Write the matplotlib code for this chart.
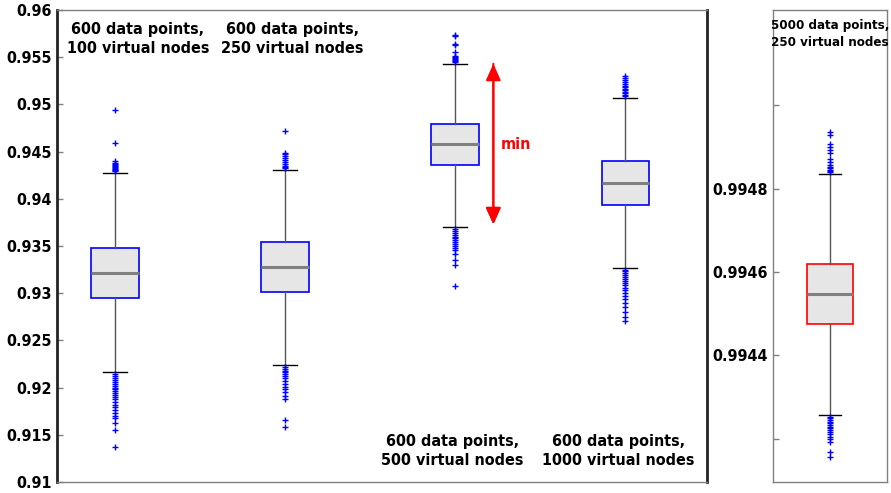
import matplotlib
matplotlib.use("Agg")
import matplotlib.pyplot as plt

# ---- data ----
labels = ["600 data points,\n100 virtual nodes", "600 data points,\n250 virtual nodes",
          "600 data points,\n500 virtual nodes", "600 data points,\n1000 virtual nodes"]
q1 = [0.9295, 0.9301, 0.9436, 0.9393]
med = [0.9321, 0.9328, 0.9458, 0.9417]
q3 = [0.9348, 0.9354, 0.9479, 0.9440]
whislo = [0.9216, 0.9224, 0.9370, 0.9327]
whishi = [0.9427, 0.9431, 0.9543, 0.9507]
fliers_hi = [
    [0.9494, 0.9459, 0.9440, 0.9438, 0.9437, 0.9436, 0.9435, 0.9434, 0.9433, 0.9432, 0.9431, 0.9430, 0.9429],
    [0.9472, 0.9449, 0.9447, 0.9445, 0.9443, 0.9441, 0.9439, 0.9437, 0.9435, 0.9434, 0.9433],
    [0.9574, 0.9572, 0.9564, 0.9563, 0.9556, 0.9551, 0.9550, 0.9549, 0.9548, 0.9547, 0.9546, 0.9545],
    [0.9530, 0.9528, 0.9526, 0.9524, 0.9522, 0.9520, 0.9518, 0.9516, 0.9515, 0.9513, 0.9512, 0.9510, 0.9509],
]
fliers_lo = [
    [0.9214, 0.9212, 0.9210, 0.9208, 0.9206, 0.9204, 0.9202, 0.9200, 0.9198, 0.9196, 0.9194, 0.9192,
     0.9190, 0.9188, 0.9185, 0.9182, 0.9179, 0.9176, 0.9173, 0.9170, 0.9168, 0.9163, 0.9155, 0.9137],
    [0.9222, 0.9220, 0.9218, 0.9216, 0.9214, 0.9212, 0.9210, 0.9207, 0.9204, 0.9201, 0.9198, 0.9195,
     0.9191, 0.9188, 0.9166, 0.9158],
    [0.9368, 0.9366, 0.9364, 0.9362, 0.9360, 0.9358, 0.9356, 0.9354, 0.9352, 0.9350, 0.9348, 0.9346,
     0.9341, 0.9335, 0.9330, 0.9308],
    [0.9325, 0.9323, 0.9321, 0.9319, 0.9317, 0.9315, 0.9313, 0.9311, 0.9309, 0.9306, 0.9303, 0.9300,
     0.9297, 0.9294, 0.9290, 0.9285, 0.9280, 0.9275, 0.9271],
]

r_label = "5000 data points,\n250 virtual nodes"
r_q1, r_med, r_q3 = 0.994475, 0.994547, 0.994620
r_whislo, r_whishi = 0.994257, 0.994836
r_fliers = [0.994935, 0.994930, 0.994908, 0.994901, 0.994893, 0.994886, 0.994872, 0.994865,
            0.994857, 0.994853, 0.994850, 0.994846, 0.994842, 0.994839,
            0.994253, 0.994249, 0.994245, 0.994241, 0.994237, 0.994233, 0.994229, 0.994225,
            0.994221, 0.994216, 0.994211, 0.994205, 0.994199, 0.994192, 0.994168, 0.994156]

left_ticks = [0.91, 0.915, 0.92, 0.925, 0.93, 0.935, 0.94, 0.945, 0.95, 0.955, 0.96]
left_ticklabels = ["0.91", "0.915", "0.92", "0.925", "0.93", "0.935", "0.94", "0.945", "0.95", "0.955", "0.96"]
right_ticks = [0.9942, 0.9944, 0.9946, 0.9948, 0.9950]
right_ticklabels = ["", "0.9944", "0.9946", "0.9948", ""]

# ---- figure ----
fig = plt.figure(figsize=(8.91, 4.93), dpi=100)
W, H = 891, 493
axL = fig.add_axes([57 / W, 11 / H, 650 / W, 472 / H])
axR = fig.add_axes([773 / W, 11 / H, 114 / W, 472 / H])

txtkw = dict(fontweight="bold", fontstretch="condensed", family="DejaVu Sans", color="black",
             ha="center", va="center", linespacing=1.35)

def style(ax, boxcolor):
    return dict(
        patch_artist=True, showfliers=True,
        boxprops=dict(facecolor="#e6e6e6", edgecolor=boxcolor, linewidth=1.2),
        medianprops=dict(color="#808080", linewidth=2.2),
        whiskerprops=dict(color="#555555", linewidth=1.0),
        capprops=dict(color="black", linewidth=1.0),
        flierprops=dict(marker="+", markeredgecolor="blue", markersize=4, markeredgewidth=1.0, linestyle="none"),
    )

stats = []
for i in range(4):
    stats.append(dict(med=med[i], q1=q1[i], q3=q3[i], whislo=whislo[i], whishi=whishi[i],
                      fliers=fliers_hi[i] + fliers_lo[i]))
axL.bxp(stats, positions=[1, 2, 3, 4], widths=0.28, **style(axL, "blue"))
axL.set_xlim(0.659, 4.48)
axL.set_ylim(0.91, 0.96)
axL.set_yticks(left_ticks)
axL.set_yticklabels(left_ticklabels)
axL.set_xticks([])

label_pos = [(1.135, 0.9569), (2.041, 0.9569), (2.982, 0.9133), (3.959, 0.9133)]
for lab, (x, y) in zip(labels, label_pos):
    axL.text(x, y, lab, fontsize=11.5, **txtkw)

axL.annotate("", xy=(3.224, 0.9543), xytext=(3.224, 0.9373),
             arrowprops=dict(arrowstyle="<|-|>,head_length=1.0,head_width=0.45", color="red", lw=1.5,
                             shrinkA=0, shrinkB=0))
axL.annotate("", xy=(3.224, 0.9373), xytext=(3.224, 0.9543),
             arrowprops=dict(arrowstyle="-|>,head_length=1.0,head_width=0.45", color="red", lw=1.5,
                             shrinkA=0, shrinkB=0))
axL.text(3.265, 0.9458, "min", color="red", fontsize=11.5, fontweight="bold",
         fontstretch="condensed", ha="left", va="center")

rstats = [dict(med=r_med, q1=r_q1, q3=r_q3, whislo=r_whislo, whishi=r_whishi, fliers=r_fliers)]
axR.bxp(rstats, positions=[1], widths=0.4, **style(axR, "red"))
axR.set_xlim(0.5, 1.5)
axR.set_ylim(0.994096, 0.995229)
axR.set_yticks(right_ticks)
axR.set_yticklabels(right_ticklabels)
axR.set_xticks([])
axR.text(1.0, 0.995171, r_label, fontsize=9.5, **txtkw)

for ax in (axL, axR):
    ax.tick_params(axis="y", direction="in", length=4, width=1, labelsize=11.5, pad=4,
                   colors="black")
    for lab in ax.get_yticklabels():
        lab.set_fontweight("bold")
        lab.set_fontstretch("condensed")
    for s in ax.spines.values():
        s.set_color("#808080")
        s.set_linewidth(1.0)

axL.spines["left"].set_color("#222222")
axL.spines["left"].set_linewidth(2.0)
axL.spines["right"].set_color("#222222")
axL.spines["right"].set_linewidth(2.0)
axL.tick_params(axis="y", colors="#808080", labelcolor="black")
axR.tick_params(axis="y", colors="#808080", labelcolor="black")

fig.savefig("out.png", dpi=100)
